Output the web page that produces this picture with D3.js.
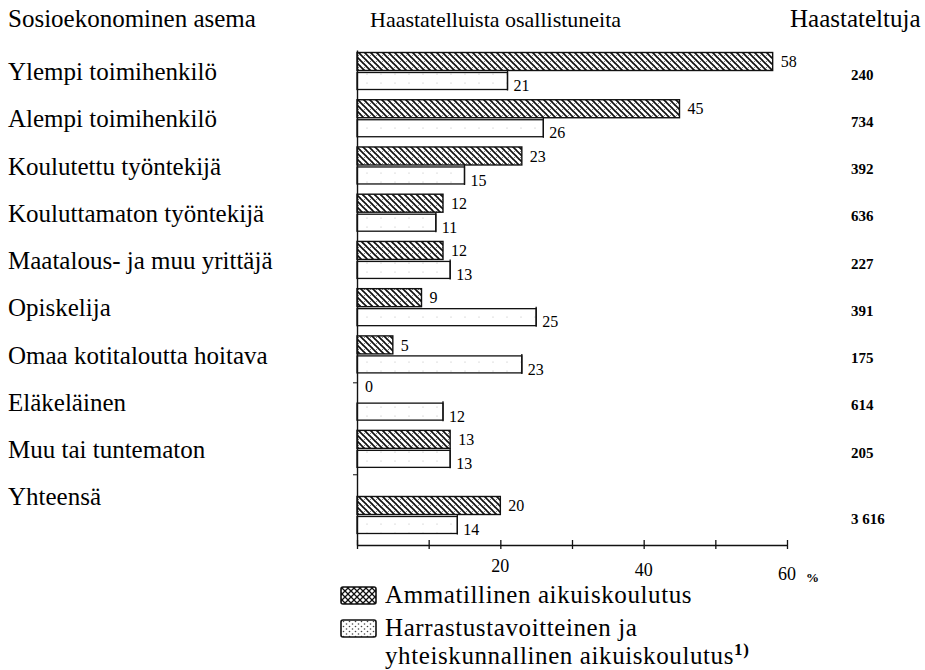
<!DOCTYPE html>
<html>
<head>
<meta charset="utf-8">
<script src="https://cdn.jsdelivr.net/npm/d3@7"></script>
<style>
  body { margin: 0; background: #fff; }
</style>
</head>
<body>
<div id="chart"></div>
<script>
// data
const categories = [
  'Ylempi toimihenkilö',
  'Alempi toimihenkilö',
  'Koulutettu työntekijä',
  'Kouluttamaton työntekijä',
  'Maatalous- ja muu yrittäjä',
  'Opiskelija',
  'Omaa kotitaloutta hoitava',
  'Eläkeläinen',
  'Muu tai tuntematon',
  'Yhteensä'
];
const ammatillinen = [58, 45, 23, 12, 12, 9, 5, 0, 13, 20];
const harrastus = [21, 26, 15, 11, 13, 25, 23, 12, 13, 14];
const haastateltuja = ['240', '734', '392', '636', '227', '391', '175', '614', '205', '3 616'];
const xTicks = [0, 10, 20, 30, 40, 50, 60];
const xTickLabels = [20, 40, 60];
const legendLabels = [
  ['Ammatillinen aikuiskoulutus'],
  ['Harrastustavoitteinen ja', 'yhteiskunnallinen aikuiskoulutus']
];

const W = 925, H = 670;
const FONT = "'Liberation Serif', 'DejaVu Serif', 'Times New Roman', serif";
const svg = d3.select('#chart').append('svg')
  .attr('width', W).attr('height', H)
  .attr('font-family', FONT)
  .style('font-family', FONT);

// --- scales ---
const x = d3.scaleLinear().domain([0, 60]).range([357, 787]);
// labels sit on plain row index, the total row bars are pushed down a bit
const y = d3.scaleLinear().domain([0, categories.length - 1]).range([71.5, 496.6]);
const totalGap = 0.4;
const rowPos = i => i + (i === categories.length - 1 ? totalGap : 0);
const barH = 18;

// --- patterns ---
const defs = svg.append('defs');
const hatch = defs.append('pattern').attr('id', 'hatch')
  .attr('patternUnits', 'userSpaceOnUse').attr('width', 6).attr('height', 6);
hatch.append('rect').attr('width', 6).attr('height', 6).attr('fill', '#fff');
hatch.append('path').attr('d', 'M-1,-1L7,7M-1,5L1,7M5,-1L7,1')
  .attr('stroke', '#111').attr('stroke-width', 1.6);
hatch.append('path').attr('d', 'M0,6L6,0')
  .attr('stroke', '#333').attr('stroke-width', 0.9).attr('stroke-dasharray', '1,2');

const cross = defs.append('pattern').attr('id', 'cross')
  .attr('patternUnits', 'userSpaceOnUse').attr('width', 6).attr('height', 6);
cross.append('rect').attr('width', 6).attr('height', 6).attr('fill', '#fff');
cross.append('path').attr('d', 'M-1,-1L7,7M-1,7L7,-1')
  .attr('stroke', '#111').attr('stroke-width', 1.3);

const dots = defs.append('pattern').attr('id', 'dots')
  .attr('patternUnits', 'userSpaceOnUse').attr('width', 6).attr('height', 5);
dots.append('rect').attr('width', 6).attr('height', 5).attr('fill', '#fff');
dots.append('circle').attr('cx', 1.5).attr('cy', 1.5).attr('r', 0.8).attr('fill', '#444');
dots.append('circle').attr('cx', 4.5).attr('cy', 4).attr('r', 0.8).attr('fill', '#444');

const dotsFaint = defs.append('pattern').attr('id', 'dotsFaint')
  .attr('patternUnits', 'userSpaceOnUse').attr('width', 14).attr('height', 9);
dotsFaint.append('rect').attr('width', 14).attr('height', 9).attr('fill', '#fff');
dotsFaint.append('circle').attr('cx', 3).attr('cy', 2).attr('r', 0.6).attr('fill', '#bbb');

// --- headers ---
svg.append('text').attr('x', 8).attr('y', 27).style('font-size', '25px').text('Sosioekonominen asema');
svg.append('text').attr('x', 370).attr('y', 27).style('font-size', '22px').text('Haastatelluista osallistuneita');
svg.append('text').attr('x', 790).attr('y', 27).style('font-size', '25px').text('Haastateltuja');

// --- category labels ---
svg.append('g').selectAll('text').data(categories).join('text')
  .attr('x', 8)
  .attr('y', (d, i) => y(i))
  .attr('dy', '0.35em')
  .style('font-size', '25px')
  .text(d => d);

// --- bars ---
const rows = categories.map((c, i) => ({
  cat: c, a: ammatillinen[i], h: harrastus[i], n: haastateltuja[i], cy: y(rowPos(i))
}));

const g = svg.append('g');
g.selectAll('rect.amm').data(rows).join('rect')
  .attr('class', 'amm')
  .attr('x', x(0))
  .attr('y', d => d.cy - barH - 1)
  .attr('width', d => x(d.a) - x(0))
  .attr('height', barH)
  .attr('fill', 'url(#hatch)')
  .attr('stroke', d => d.a > 0 ? '#111' : 'none')
  .attr('stroke-width', 1.4);

g.selectAll('rect.har').data(rows).join('rect')
  .attr('class', 'har')
  .attr('x', x(0))
  .attr('y', d => d.cy + 1)
  .attr('width', d => x(d.h) - x(0))
  .attr('height', barH - 1)
  .attr('fill', 'url(#dotsFaint)')
  .attr('stroke', '#111')
  .attr('stroke-width', 1.3);

// bracket-like end of the open bars
g.selectAll('line.end').data(rows).join('line')
  .attr('class', 'end')
  .attr('x1', d => x(d.h)).attr('x2', d => x(d.h))
  .attr('y1', d => d.cy - 1).attr('y2', d => d.cy + barH + 1)
  .attr('stroke', '#111').attr('stroke-width', 1.3);

// value labels
g.selectAll('text.va').data(rows).join('text')
  .attr('class', 'va')
  .attr('x', d => x(d.a) + 8)
  .attr('y', d => d.cy - barH / 2 - 1 - (d.a === 0 ? 6 : 0))
  .attr('dy', '0.35em')
  .style('font-size', '16px')
  .text(d => d.a);

g.selectAll('text.vh').data(rows).join('text')
  .attr('class', 'vh')
  .attr('x', d => x(d.h) + 6)
  .attr('y', d => d.cy + barH / 2 + 5)
  .attr('dy', '0.35em')
  .style('font-size', '16px')
  .text(d => d.h);

// interviewed counts
g.selectAll('text.n').data(rows).join('text')
  .attr('class', 'n')
  .attr('x', 851)
  .attr('y', d => d.cy + 3)
  .attr('dy', '0.35em')
  .style('font-size', '15px')
  .style('font-weight', 'bold')
  .text(d => d.n);

// --- axes ---
const axisY = 545;
const xAxis = svg.append('g')
  .attr('transform', `translate(0,${axisY})`)
  .call(d3.axisBottom(x).tickValues(xTicks).tickSize(6).tickSizeOuter(0).tickFormat(''));
xAxis.select('.domain').attr('stroke', '#111').attr('stroke-width', 1.6);
xAxis.selectAll('.tick line').attr('stroke', '#111').attr('stroke-width', 1.3).attr('y1', -5).attr('y2', 4);

svg.append('g').selectAll('text').data(xTickLabels).join('text')
  .attr('x', d => x(d))
  .attr('y', (d, i) => 572 + i * 4)
  .attr('text-anchor', 'middle')
  .style('font-size', '18px')
  .text(d => d);
svg.append('text').attr('x', 806).attr('y', 582).style('font-size', '13px').style('font-weight', 'bold').text('%');

const yAxis = svg.append('g')
  .attr('transform', `translate(${x(0)},0)`)
  .call(d3.axisLeft(d3.scaleLinear().domain([-0.5, categories.length - 1 + totalGap + 0.6]).range([y(-0.5) + 2, axisY]))
    .tickValues([6.55, 8.5]).tickSize(4).tickSizeOuter(0).tickFormat(''));
yAxis.select('.domain').attr('stroke', '#111').attr('stroke-width', 1.4);
yAxis.selectAll('.tick line').attr('stroke', '#111');

// --- legend ---
const legend = svg.append('g');
const legendY = [587, 620];
const swatchFill = ['url(#cross)', 'url(#dots)'];
legendLabels.forEach((lines, i) => {
  legend.append('rect')
    .attr('x', 341).attr('y', legendY[i])
    .attr('width', 35).attr('height', 17)
    .attr('rx', 2)
    .attr('fill', swatchFill[i])
    .attr('stroke', '#111').attr('stroke-width', 1.6);
  lines.forEach((t, j) => {
    const tx = legend.append('text')
      .attr('x', 385).attr('y', legendY[i] + 16 + j * 28)
      .style('font-size', '25px')
      .style('letter-spacing', '0.6px')
      .text(t);
    if (i === 1 && j === lines.length - 1) {
      tx.append('tspan').attr('dy', -9).style('font-size', '17px').style('font-weight', 'bold').text('1)');
    }
  });
});
</script>
</body>
</html>
